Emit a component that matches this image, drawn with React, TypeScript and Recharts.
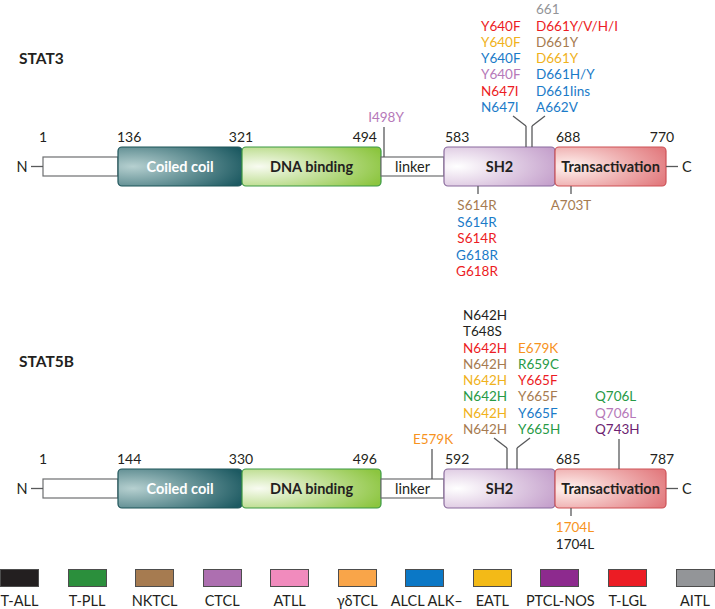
import React from 'react';
import { ComposedChart, XAxis, YAxis, Scatter, ReferenceArea, ReferenceLine } from 'recharts';

// residue numbers printed over the domain boundaries
const stat3Bounds = ['1', '136', '321', '494', '583', '688', '770'];
const stat5bBounds = ['1', '144', '330', '496', '592', '685', '787'];
const domainNames = ['', 'Coiled coil', 'DNA binding', 'linker', 'SH2', 'Transactivation'];

const subtypes = ['T-ALL', 'T-PLL', 'NKTCL', 'CTCL', 'ATLL', 'γδTCL', 'ALCL ALK–', 'EATL', 'PTCL-NOS', 'T-LGL', 'AITL'];
const subtypeColors = ['#231f20', '#2b8f3c', '#a67b50', '#ad6fb0', '#f18bbd', '#f9a549', '#0b78c6', '#f3ba17', '#8d2a8e', '#ec1c24', '#939598'];

// mutations, [label, subtype]
const stat3I498 = [['I498Y', 'CTCL']];
const stat3Y640 = [
  ['Y640F', 'T-LGL'], ['Y640F', 'EATL'], ['Y640F', 'ALCL ALK–'], ['Y640F', 'CTCL'],
  ['N647I', 'T-LGL'], ['N647I', 'ALCL ALK–'],
];
const stat3D661 = [
  ['661', 'AITL'], ['D661Y/V/H/I', 'T-LGL'], ['D661Y', 'NKTCL'], ['D661Y', 'EATL'],
  ['D661H/Y', 'ALCL ALK–'], ['D661Iins', 'ALCL ALK–'], ['A662V', 'ALCL ALK–'],
];
const stat3S614 = [
  ['S614R', 'NKTCL'], ['S614R', 'ALCL ALK–'], ['S614R', 'T-LGL'], ['G618R', 'ALCL ALK–'], ['G618R', 'T-LGL'],
];
const stat3A703 = [['A703T', 'NKTCL']];

const stat5bE579 = [['E579K', 'γδTCL']];
const stat5bN642 = [
  ['N642H', 'T-ALL'], ['T648S', 'T-ALL'], ['N642H', 'T-LGL'], ['N642H', 'NKTCL'],
  ['N642H', 'EATL'], ['N642H', 'T-PLL'], ['N642H', 'EATL'], ['N642H', 'NKTCL'],
];
const stat5bY665 = [
  ['E679K', 'γδTCL'], ['R659C', 'T-PLL'], ['Y665F', 'T-LGL'], ['Y665F', 'NKTCL'], ['Y665F', 'ALCL ALK–'], ['Y665H', 'T-PLL'],
];
const stat5bQ706 = [['Q706L', 'T-PLL'], ['Q706L', 'CTCL'], ['Q743H', 'PTCL-NOS']];
const stat5bI704 = [['1704L', 'γδTCL'], ['1704L', 'T-ALL']];

// ---- layout (schematic, not to residue scale) ----
const W = 715;
const H = 560;
const FONT = "Lato, 'Open Sans', sans-serif";
const EDGES = [43, 118, 242, 381, 444, 555, 666];
const BOX_H = 39;
const PLAIN_INSET = 10;
const LINE = 16.3;
const tickPos = [
  { x: 43, anchor: 'middle' }, { x: 117, anchor: 'start' }, { x: 241, anchor: 'middle' },
  { x: 377, anchor: 'end' }, { x: 445, anchor: 'start' }, { x: 556, anchor: 'start' }, { x: 662, anchor: 'middle' },
];
const textColor: Record<string, string> = {
  'γδTCL': '#f7931e', EATL: '#f0b21c', CTCL: '#b679b9', 'T-PLL': '#279a46', 'ALCL ALK–': '#1b7bc8', 'PTCL-NOS': '#6e1f72',
};
const colorOf = (s: string) => textColor[s] || subtypeColors[subtypes.indexOf(s)];

const grads = [
  null,
  { id: 'gCoil', from: '#b6d0d0', to: '#1d5a62', stroke: '#1d5459', text: '#ffffff' },
  { id: 'gDna', from: '#f8fbf1', to: '#8cc53f', stroke: '#3c9a45', text: '#231f20' },
  null,
  { id: 'gSh2', from: '#ffffff', to: '#c5a1cc', stroke: '#8a6b9d', text: '#231f20' },
  { id: 'gTa', from: '#fff3f0', to: '#e27a7e', stroke: '#cd5257', text: '#231f20' },
];

type Site = { muts: string[][]; stem: number; kind: 'up' | 'left' | 'right' | 'down'; plain?: boolean; lx: number; anchor: string };
const proteins = [
  {
    name: 'STAT3', titleY: 64, top: 147, bounds: stat3Bounds,
    sites: [
      { muts: stat3I498, stem: 384, kind: 'up', plain: true, lx: 386, anchor: 'middle' },
      { muts: stat3Y640, stem: 526, kind: 'left', lx: 481, anchor: 'start' },
      { muts: stat3D661, stem: 532, kind: 'right', lx: 536, anchor: 'start' },
      { muts: stat3S614, stem: 478, kind: 'down', lx: 477, anchor: 'middle' },
      { muts: stat3A703, stem: 571, kind: 'down', lx: 571, anchor: 'middle' },
    ] as Site[],
  },
  {
    name: 'STAT5B', titleY: 367, top: 469, bounds: stat5bBounds,
    sites: [
      { muts: stat5bE579, stem: 432, kind: 'up', plain: true, lx: 433, anchor: 'middle' },
      { muts: stat5bN642, stem: 507, kind: 'left', lx: 463, anchor: 'start' },
      { muts: stat5bY665, stem: 517, kind: 'right', lx: 518, anchor: 'start' },
      { muts: stat5bQ706, stem: 619, kind: 'up', lx: 595, anchor: 'start' },
      { muts: stat5bI704, stem: 571, kind: 'down', lx: 575, anchor: 'middle' },
    ] as Site[],
  },
];

type Txt = { x: number; y: number; text: string; color?: string; anchor?: string; bold?: boolean; size?: number };
const texts: Txt[] = [];
const segs: { x1: number; y1: number; x2: number; y2: number }[] = [];

proteins.forEach((p) => {
  const T = p.top;
  const mid = T + BOX_H / 2;
  texts.push({ x: 19, y: p.titleY, text: p.name, bold: true, size: 15.5, anchor: 'start' });
  p.bounds.forEach((b, i) => texts.push({ x: tickPos[i].x, y: T - 5, text: b, anchor: tickPos[i].anchor, size: 14 }));
  texts.push({ x: 22, y: mid + 5, text: 'N', anchor: 'middle', size: 14.5 });
  texts.push({ x: 682, y: mid + 5, text: 'C', anchor: 'start', size: 14.5 });
  segs.push({ x1: 31, y1: mid, x2: EDGES[0], y2: mid });
  segs.push({ x1: EDGES[6], y1: mid, x2: 678, y2: mid });

  p.sites.forEach((s) => {
    const n = s.muts.length;
    if (s.kind === 'down') {
      segs.push({ x1: s.stem, y1: T + BOX_H, x2: s.stem, y2: T + BOX_H + 8 });
      s.muts.forEach(([label, sub], i) =>
        texts.push({ x: s.lx, y: T + BOX_H + 24 + i * 16.6, text: label, color: colorOf(sub), anchor: s.anchor }));
      return;
    }
    let bottom: number;
    if (s.kind === 'up') {
      const attach = s.plain ? T + PLAIN_INSET : T;
      segs.push({ x1: s.stem, y1: attach - 30, x2: s.stem, y2: attach });
      bottom = attach - 35;
    } else {
      const dx = s.kind === 'left' ? -13 : 13;
      segs.push({ x1: s.stem, y1: T, x2: s.stem, y2: T - 21 });
      segs.push({ x1: s.stem, y1: T - 21, x2: s.stem + dx, y2: T - 31 });
      bottom = T - 35;
    }
    s.muts.forEach(([label, sub], i) =>
      texts.push({ x: s.lx, y: bottom - (n - 1 - i) * LINE, text: label, color: colorOf(sub), anchor: s.anchor }));
  });
});

const TextMark = (props: any) => {
  const d: Txt = props.payload;
  return (
    <text
      x={props.cx}
      y={props.cy}
      textAnchor={d.anchor || 'middle'}
      fill={d.color || '#231f20'}
      fontSize={d.size || 13.5}
      fontWeight={d.bold ? 700 : 400}
      fontFamily={FONT}
    >
      {d.text}
    </text>
  );
};

const DomainBox = (idx: number) => (props: any) => {
  const { x, y, width, height } = props;
  const g = grads[idx]!;
  return (
    <g>
      <rect x={x} y={y} width={width} height={height} rx={4} ry={4} fill={`url(#${g.id})`} stroke={g.stroke} strokeWidth={1.2} />
      <text x={x + width / 2} y={y + height / 2 + 5} textAnchor="middle" fill={g.text} fontSize={14.5} fontWeight={700} fontFamily={FONT}>
        {domainNames[idx]}
      </text>
    </g>
  );
};

const PlainBox = (idx: number) => (props: any) => {
  const { x, y, width, height } = props;
  return (
    <g>
      <rect x={x} y={y} width={width} height={height} fill="#ffffff" stroke="#6d6e70" strokeWidth={1.2} />
      {domainNames[idx] && (
        <text x={x + width / 2} y={y + height / 2 + 5} textAnchor="middle" fill="#231f20" fontSize={14.5} fontFamily={FONT}>
          {domainNames[idx]}
        </text>
      )}
    </g>
  );
};

const Legend = () => (
  <div style={{ position: 'absolute', left: 0, top: 569, width: W, height: 40 }}>
    {subtypes.map((s, i) => {
      const cx = 19.5 + i * 67.55;
      return (
        <div key={s} style={{ position: 'absolute', left: cx - 34, width: 68, top: 0, textAlign: 'center' }}>
          <div style={{ width: 37, height: 16, margin: '0 auto', background: subtypeColors[i], border: '1px solid #4d4d4d' }} />
          <div style={{ fontFamily: FONT, fontSize: 14.5, color: '#231f20', marginTop: 5, lineHeight: '18px', whiteSpace: 'nowrap' }}>{s}</div>
        </div>
      );
    })}
  </div>
);

export default function App() {
  return (
    <div style={{ position: 'absolute', left: 0, top: 0, width: W, height: 609, background: '#fff' }}>
      <ComposedChart width={W} height={H} margin={{ top: 0, right: 0, bottom: 0, left: 0 }}>
        <defs>
          {grads.filter(Boolean).map((g) => (
            <radialGradient key={g!.id} id={g!.id} cx="0.12" cy="0.5" r="0.95" fx="0.12" fy="0.5">
              <stop offset="0%" stopColor={g!.from} />
              <stop offset="100%" stopColor={g!.to} />
            </radialGradient>
          ))}
        </defs>
        <XAxis type="number" dataKey="x" domain={[0, W]} allowDataOverflow hide />
        <YAxis type="number" dataKey="y" domain={[0, H]} allowDataOverflow reversed hide />
        {proteins.map((p) =>
          domainNames.map((_, i) => {
            const plain = !grads[i];
            return (
              <ReferenceArea
                key={p.name + i}
                x1={EDGES[i]}
                x2={EDGES[i + 1]}
                y1={plain ? p.top + PLAIN_INSET : p.top}
                y2={plain ? p.top + BOX_H - PLAIN_INSET : p.top + BOX_H}
                shape={plain ? PlainBox(i) : DomainBox(i)}
              />
            );
          })
        )}
        {segs.map((s, i) => (
          <ReferenceLine key={'s' + i} segment={[{ x: s.x1, y: s.y1 }, { x: s.x2, y: s.y2 }]} stroke="#58595b" strokeWidth={1.3} />
        ))}
        <Scatter data={texts} shape={TextMark} isAnimationActive={false} />
      </ComposedChart>
      <Legend />
    </div>
  );
}
